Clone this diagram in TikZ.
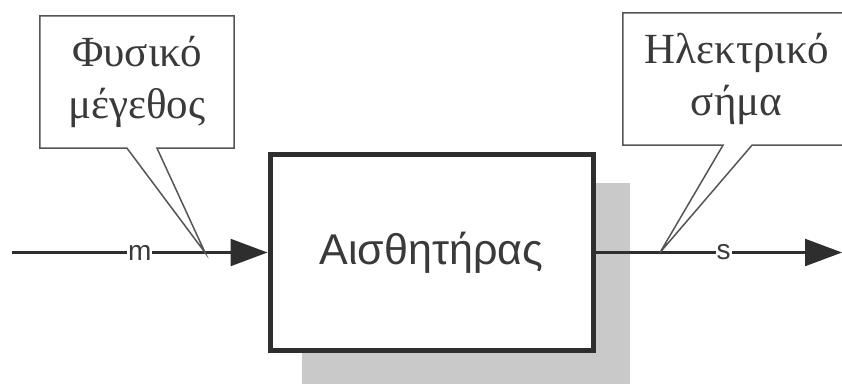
\documentclass[tikz,border=0pt]{standalone}
\usepackage{fontspec}
\setmainfont{Liberation Serif}
\setsansfont{Liberation Sans}
\usetikzlibrary{arrows.meta,calc}
\definecolor{ink}{HTML}{2E2E2E}
\definecolor{calloutink}{HTML}{555555}
\definecolor{shadowgray}{HTML}{C9C9C9}
\definecolor{textink}{HTML}{3A3A3A}
\tikzset{
  signal/.style={draw=ink, line width=2.4pt, -{Triangle[length=37pt,width=27pt]}},
  siglabel/.style={fill=white, inner sep=1pt, text=textink, font=\sffamily\fontsize{28}{28}\selectfont},
  blockbox/.style={draw=ink, line width=5pt, fill=white, minimum width=323pt, minimum height=195pt,
    text=textink, font=\sffamily\fontsize{43}{43}\selectfont},
  notebox/.style={align=center, text=textink, inner sep=0pt, font=\fontsize{43}{52}\selectfont},
  noteline/.style={draw=calloutink, line width=1.5pt, fill=white, line join=miter},
}
\begin{document}
\begin{tikzpicture}[x=1pt,y=1pt]
  \useasboundingbox (0,0) rectangle (842,383);
  \clip (0,0) rectangle (842,383);

  % drop shadow of the sensor block
  \fill[shadowgray] (302,-5) rectangle (630,200);

  % sensor block
  \node[blockbox] (sensor) at (431.5,130.5) {Αισθητήρας};

  % signal path
  \coordinate (src) at (12,130.5);
  \coordinate (dst) at (842,130.5);
  \coordinate (tipm) at (205,130.5);
  \coordinate (tips) at (660,130.5);
  \draw[signal] (src) -- (sensor.west)
    node[siglabel, pos=0.5] (mlab) {m};
  \draw[signal] (sensor.east) -- (dst)
    node[siglabel, pos=0.52] (slab) {s};

  % callout: physical quantity
  \node[notebox, minimum width=194pt, minimum height=132pt] (phys) at (137,301) {};
  \path[noteline] (phys.north west) -- (phys.north east) -- (phys.south east)
    -- ([xshift=20pt]phys.south) -- (tipm) -- ([xshift=-10pt]phys.south)
    -- (phys.south west) -- cycle;
  \node[notebox] (physt) at (phys) {Φυσικό\\μέγεθος};

  % callout: electrical signal
  \node[notebox, minimum width=227pt, minimum height=132pt] (elec) at (736.5,304) {};
  \path[noteline] (elec.north west) -- (elec.north east) -- (elec.south east)
    -- ([xshift=15.5pt]elec.south) -- (tips) -- ([xshift=-13.5pt]elec.south)
    -- (elec.south west) -- cycle;
  \node[notebox] (elect) at (elec) {Ηλεκτρικό\\σήμα};
\end{tikzpicture}
\end{document}
